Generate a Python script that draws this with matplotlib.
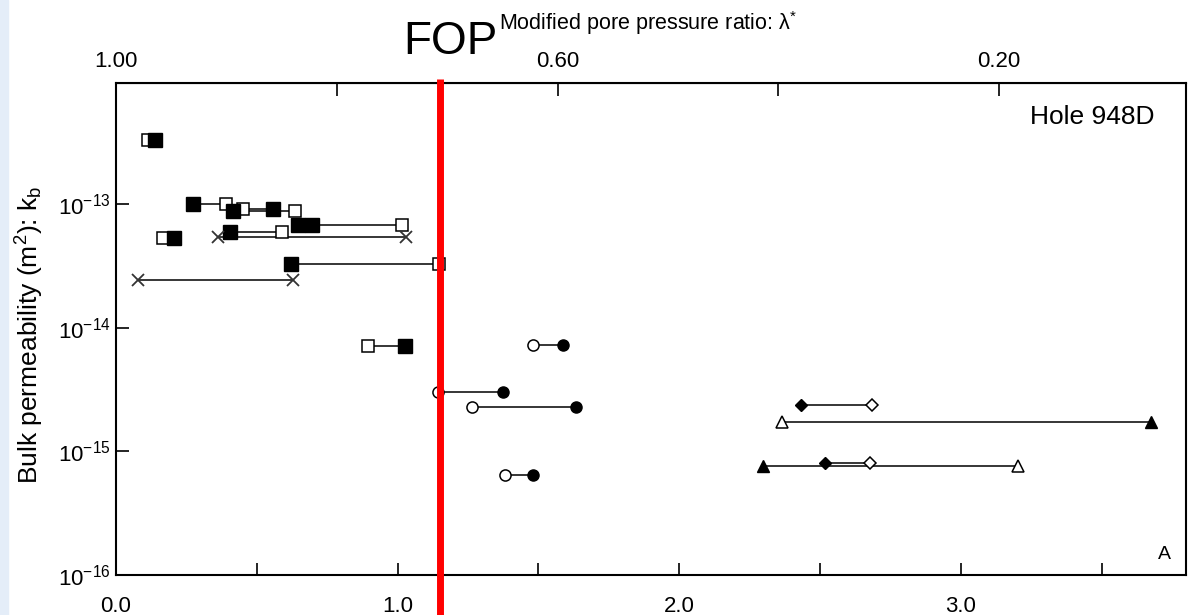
import numpy as np
import matplotlib.pyplot as plt
from matplotlib.patches import Rectangle
from matplotlib.ticker import NullLocator
import matplotlib.transforms as mtransforms

plt.rcParams['font.family'] = ['Liberation Sans', 'DejaVu Sans']
plt.rcParams['mathtext.default'] = 'regular'

# --- Data: one row per sample, open marker <-> filled marker at the same k_b ---
# squares
sq_open = [0.114, 0.390, 0.635, 0.452, 1.014, np.nan, 0.588, 0.168, 1.148, 0.896]
sq_fill = [0.138, 0.273, 0.414, 0.558, 0.696, 0.646, 0.405, 0.206, 0.620, 1.026]
sq_k = [3.3e-13, 1.0e-13, 8.8e-14, 9.2e-14, 6.8e-14, 6.8e-14, 6.0e-14, 5.3e-14, 3.3e-14, 7.1e-15]

# crosses (both ends drawn as x)
cr_start = [0.363, 0.079]
cr_end = [1.029, 0.627]
cr_k = [5.45e-14, 2.43e-14]

# circles
ci_open = [1.481, 1.144, 1.266, 1.381]
ci_fill = [1.586, 1.373, 1.633, 1.481]
ci_k = [7.2e-15, 3.04e-15, 2.3e-15, 6.5e-16]

# diamonds
di_open = [2.685, 2.677]
di_fill = [2.432, 2.517]
di_k = [2.37e-15, 8.0e-16]

# triangles
tr_open = [2.367, 3.203]
tr_fill = [3.677, 2.298]
tr_k = [1.74e-15, 7.6e-16]

fop_x = 1.15
x_ticks = [0.0, 0.5, 1.0, 1.5, 2.0, 2.5, 3.0, 3.5]
x_labels = ['0.0', '', '1.0', '', '2.0', '', '3.0', '']
y_ticks = [1e-16, 1e-15, 1e-14, 1e-13]
lambda_ticks = [1.00, 0.80, 0.60, 0.40, 0.20]
lambda_labels = ['1.00', '', '0.60', '', '0.20']
lambda_span = 3.92  # bottom-axis units per unit of lambda*


def to_lambda(x):
    return 1.0 - np.asarray(x) / lambda_span


def from_lambda(lam):
    return (1.0 - np.asarray(lam)) * lambda_span


W, H = 1192, 615
fig = plt.figure(figsize=(W / 100, H / 100), dpi=100)
fig.add_artist(Rectangle((0, 0), 8 / W, 1, transform=fig.transFigure,
                         color='#e4edf8', zorder=0))
ax = fig.add_axes([116 / W, 40 / H, 1070 / W, 492 / H])

# --- connecting lines ---
groups = [(sq_open, sq_fill, sq_k), (cr_start, cr_end, cr_k), (ci_open, ci_fill, ci_k),
          (di_open, di_fill, di_k), (tr_open, tr_fill, tr_k)]
for xo, xf, kk in groups:
    for a, b, k in zip(xo, xf, kk):
        ax.plot([a, b], [k, k], color='black', lw=1.1, zorder=2)

# --- markers ---
op = dict(ls='none', mfc='white', mec='black', mew=1.1, zorder=3)
fl = dict(ls='none', color='black', zorder=3)
ax.plot(sq_open, sq_k, 's', ms=9, **op)
ax.plot(sq_fill, sq_k, 's', ms=10, **fl)
ax.plot(cr_start + cr_end, cr_k + cr_k, 'x', ms=8, mew=1.3, color='#333333', ls='none', zorder=3)
ax.plot(ci_open, ci_k, 'o', ms=8, **op)
ax.plot(ci_fill, ci_k, 'o', ms=8, **fl)
ax.plot(di_open, di_k, 'D', ms=6, **op)
ax.plot(di_fill, di_k, 'D', ms=6, **fl)
ax.plot(tr_open, tr_k, '^', ms=8.5, **op)
ax.plot(tr_fill, tr_k, '^', ms=8.5, **fl)

# --- axes ---
ax.set_yscale('log')
ax.set_ylim(1e-16, 10 ** -12.02)
ax.set_yticks(y_ticks)
ax.yaxis.set_minor_locator(NullLocator())
ax.set_xlim(0, 3.8)
ax.set_xticks(x_ticks, x_labels)
ax.tick_params(axis='both', which='both', direction='in', length=9, width=1.2,
               labelsize=16, top=False, right=False)
ax.tick_params(axis='x', pad=15)
ax.tick_params(axis='y', pad=4)
for s in ax.spines.values():
    s.set_linewidth(1.5)

top = ax.secondary_xaxis('top', functions=(to_lambda, from_lambda))
top.set_xticks(lambda_ticks, lambda_labels)
top.tick_params(direction='in', length=9, width=1.2, labelsize=16, pad=8)
top.xaxis.set_minor_locator(NullLocator())

# --- FOP marker line ---
blend = mtransforms.blended_transform_factory(ax.transData, ax.transAxes)
ax.plot([fop_x, fop_x], [-0.085, 1.008], transform=blend, color='red', lw=5,
        solid_capstyle='butt', clip_on=False, zorder=6)
ax.text(1.186, 1.083, 'FOP', transform=blend, ha='center', va='center', fontsize=33)

# --- labels and annotations ---
ax.text(0.497, 1.122, 'Modified pore pressure ratio: λ$^{*}$', transform=ax.transAxes,
        ha='center', va='center', fontsize=15.5)
ax.text(0.971, 0.931, 'Hole 948D', transform=ax.transAxes, ha='right', va='center', fontsize=19)
ax.text(0.980, 0.041, 'A', transform=ax.transAxes, ha='center', va='center', fontsize=14)
fig.text(30 / W, 1 - 335 / H, 'Bulk permeability (m$^2$): k$_b$', rotation=90,
         ha='center', va='center', fontsize=19)

fig.savefig('out.png', dpi=100)
